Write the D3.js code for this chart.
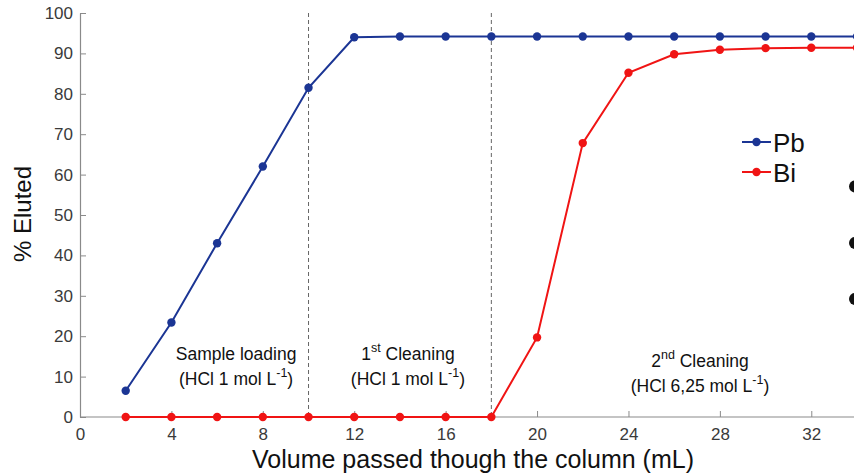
<!DOCTYPE html>
<html>
<head>
<meta charset="utf-8">
<script src="https://cdn.jsdelivr.net/npm/d3@7"></script>
<style>
  html, body { margin: 0; padding: 0; background: #fff; overflow: hidden; }
  svg { display: block; font-family: "Liberation Sans", Arial, Helvetica, sans-serif; }
</style>
</head>
<body>
<svg id="chart" width="854" height="475"></svg>
<script>
// Elution volumes (mL)
const volumes = [2, 4, 6, 8, 10, 12, 14, 16, 18, 20, 22, 24, 26, 28, 30, 32, 34];
// % eluted per element
const pbValues = [6.5, 23.4, 43.0, 62.0, 81.5, 94.0, 94.2, 94.2, 94.2, 94.2, 94.2, 94.2, 94.2, 94.2, 94.2, 94.2, 94.2];
const biValues = [0, 0, 0, 0, 0, 0, 0, 0, 0, 19.7, 67.8, 85.2, 89.8, 90.9, 91.3, 91.4, 91.4];
const seriesNames = ["Pb", "Bi"];
const seriesColors = ["#1b3594", "#f01414"];
const xTicks = [0, 4, 8, 12, 16, 20, 24, 28, 32];
const yTicks = [0, 10, 20, 30, 40, 50, 60, 70, 80, 90, 100];
const stageBounds = [10, 18];
const stages = [
  { x: 6.83, l1: "Sample loading", sup1: "", l1b: "", l2: "(HCl 1 mol L", dy: 0 },
  { x: 14.35, l1: "1", sup1: "st", l1b: " Cleaning", l2: "(HCl 1 mol L", dy: 0 },
  { x: 27.13, l1: "2", sup1: "nd", l1b: " Cleaning", l2: "(HCl 6,25 mol L", dy: 6.5 }
];

const svg = d3.select("#chart");
const x = d3.scaleLinear().domain([0, 34]).range([80, 857]);
const y = d3.scaleLinear().domain([0, 100]).range([417, 13]);

const axisColor = "#8a8a8a";
const tickText = "#3a3a3a";

// Stage separators
svg.selectAll(".sep").data(stageBounds).join("line")
  .attr("x1", d => x(d)).attr("x2", d => x(d))
  .attr("y1", y(100)).attr("y2", y(0))
  .attr("stroke", "#666").attr("stroke-width", 1)
  .attr("stroke-dasharray", "4,3");

// Axes
const xAxis = svg.append("g").attr("transform", `translate(0,${y(0)})`)
  .call(d3.axisBottom(x).tickValues(xTicks).tickSizeInner(-6).tickSizeOuter(0).tickPadding(11));
const yAxis = svg.append("g").attr("transform", `translate(${x(0)},0)`)
  .call(d3.axisLeft(y).tickValues(yTicks).tickSizeInner(-6).tickSizeOuter(0).tickPadding(7));
[xAxis, yAxis].forEach(g => {
  g.select(".domain").attr("stroke", axisColor).attr("stroke-width", 1.2);
  g.selectAll(".tick line").attr("stroke", axisColor);
  g.selectAll(".tick text").attr("fill", tickText).attr("font-size", 17)
    .attr("font-family", "Liberation Sans, Arial, sans-serif");
});
xAxis.select(".domain").attr("d", `M${x(0)},0H854`);

// Axis titles
svg.append("text").attr("x", 473).attr("y", 468).attr("text-anchor", "middle")
  .attr("font-size", 25).attr("fill", "#111").text("Volume passed though the column (mL)");
svg.append("text").attr("transform", `translate(31,214) rotate(-90)`)
  .attr("text-anchor", "middle").attr("font-size", 24).attr("fill", "#111").text("% Eluted");

// Stage annotations
stages.forEach(s => {
  const t1 = svg.append("text").attr("x", x(s.x)).attr("y", 360 + s.dy)
    .attr("text-anchor", "middle").attr("font-size", 17.5).attr("fill", "#111");
  t1.append("tspan").text(s.l1);
  if (s.sup1) {
    t1.append("tspan").attr("font-size", 12.5).attr("dy", -8).text(s.sup1);
    t1.append("tspan").attr("dy", 8).text(s.l1b);
  }
  const t2 = svg.append("text").attr("x", x(s.x)).attr("y", 385 + s.dy)
    .attr("text-anchor", "middle").attr("font-size", 17.5).attr("fill", "#111");
  t2.append("tspan").text(s.l2);
  t2.append("tspan").attr("font-size", 12.5).attr("dy", -8).text("-1");
  t2.append("tspan").attr("dy", 8).text(")");
});

// Series
const series = [pbValues, biValues];
const line = d3.line().x((d, i) => x(volumes[i])).y(d => y(d));
series.forEach((vals, k) => {
  svg.append("path").datum(vals).attr("d", line)
    .attr("fill", "none").attr("stroke", seriesColors[k]).attr("stroke-width", 2);
  svg.append("g").selectAll("circle").data(vals).join("circle")
    .attr("cx", (d, i) => x(volumes[i])).attr("cy", d => y(d)).attr("r", 4.2)
    .attr("fill", seriesColors[k]);
});

// Legend
const legend = svg.append("g").attr("transform", "translate(742,142)");
seriesNames.forEach((name, k) => {
  const g = legend.append("g").attr("transform", `translate(0,${k * 30})`);
  g.append("line").attr("x1", 0).attr("x2", 29).attr("stroke", seriesColors[k]).attr("stroke-width", 2);
  g.append("circle").attr("cx", 14.5).attr("r", 4.2).attr("fill", seriesColors[k]);
  g.append("text").attr("x", 31).attr("y", 10).attr("font-size", 26).attr("fill", "#111").text(name);
});

// Bullet markers at the right edge
svg.append("g").selectAll("circle").data([186.5, 243, 299]).join("circle")
  .attr("cx", 855).attr("cy", d => d).attr("r", 6).attr("fill", "#111");
</script>
</body>
</html>
